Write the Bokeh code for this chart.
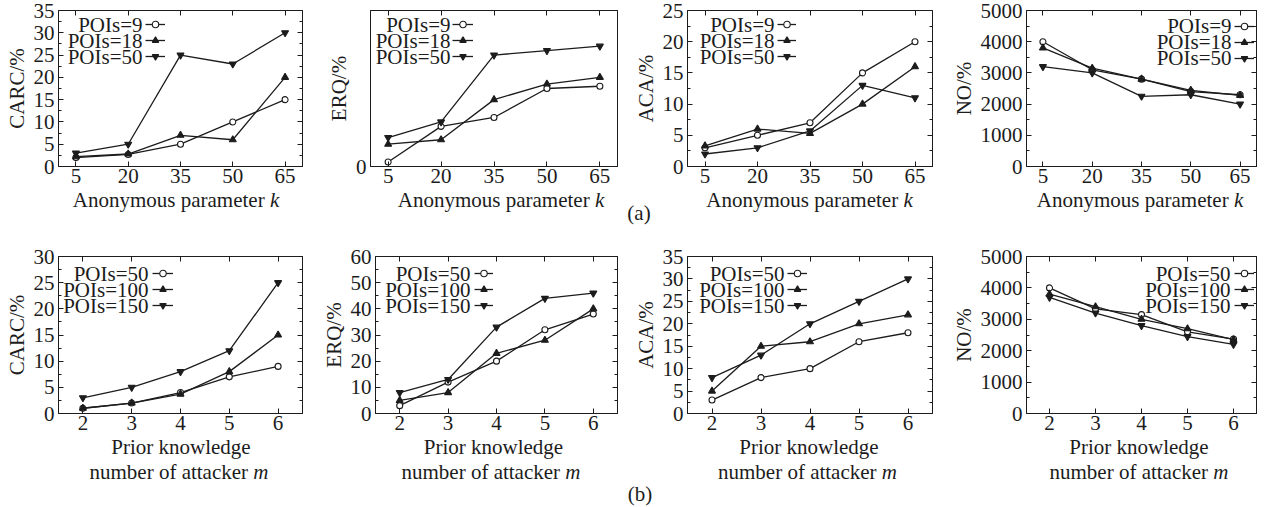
from bokeh.plotting import figure
from bokeh.layouts import column, row
from bokeh.models import FixedTicker, LinearAxis, Label, Legend, LegendItem, Div
from bokeh.embed import file_html
from bokeh.resources import INLINE

FONT = "Liberation Serif"
INK = "#1c1c1c"
FS = "21px"

# ---------------- data ----------------
k_values = [5, 20, 35, 50, 65]
m_values = [2, 3, 4, 5, 6]
k_series_names = ["POIs=9", "POIs=18", "POIs=50"]
m_series_names = ["POIs=50", "POIs=100", "POIs=150"]

# (a) varying anonymous parameter k
carc_k_poi9 = [2.0, 2.7, 5.0, 10.0, 15.0]
carc_k_poi18 = [2.2, 2.8, 7.0, 6.0, 20.0]
carc_k_poi50 = [3.0, 5.0, 25.0, 23.0, 30.0]

erq_k_poi9 = [1.0, 9.0, 11.0, 17.5, 18.0]
erq_k_poi18 = [5.0, 6.0, 15.0, 18.5, 20.0]
erq_k_poi50 = [6.5, 10.0, 25.0, 26.0, 27.0]

aca_k_poi9 = [3.0, 5.0, 7.0, 15.0, 20.0]
aca_k_poi18 = [3.3, 6.0, 5.3, 10.0, 16.0]
aca_k_poi50 = [2.0, 3.0, 5.7, 13.0, 11.0]

no_k_poi9 = [4000, 3100, 2800, 2400, 2300]
no_k_poi18 = [3800, 3150, 2800, 2440, 2280]
no_k_poi50 = [3200, 3000, 2250, 2300, 2000]

# (b) varying prior knowledge number m
carc_m_poi50 = [1.0, 2.0, 4.0, 7.0, 9.0]
carc_m_poi100 = [1.0, 2.0, 3.7, 8.0, 15.0]
carc_m_poi150 = [3.0, 5.0, 8.0, 12.0, 25.0]

erq_m_poi50 = [3, 12, 20, 32, 38]
erq_m_poi100 = [5, 8, 23, 28, 40]
erq_m_poi150 = [8, 13, 33, 44, 46]

aca_m_poi50 = [3, 8, 10, 16, 18]
aca_m_poi100 = [5, 15, 16, 20, 22]
aca_m_poi150 = [8, 13, 20, 25, 30]

no_m_poi50 = [4000, 3330, 3150, 2600, 2370]
no_m_poi100 = [3800, 3400, 3000, 2700, 2350]
no_m_poi150 = [3700, 3200, 2800, 2450, 2200]

# tick labels
k_ticks = [5, 20, 35, 50, 65]
m_ticks = [2, 3, 4, 5, 6]
carc_k_yticks = [0, 5, 10, 15, 20, 25, 30, 35]
erq_k_yticks = [0]
aca_k_yticks = [0, 5, 10, 15, 20, 25]
no_yticks = [0, 1000, 2000, 3000, 4000, 5000]
carc_m_yticks = [0, 5, 10, 15, 20, 25, 30]
erq_m_yticks = [0, 10, 20, 30, 40, 50, 60]
aca_m_yticks = [0, 5, 10, 15, 20, 25, 30, 35]

k_axis_title = "Anonymous parameter <i>k</i>"
m_axis_title_1 = "Prior knowledge"
m_axis_title_2 = "number of attacker <i>m</i>"

MARKERS = [("circle", "white", 6), ("triangle", INK, 7), ("inverted_triangle", INK, 7)]


def midpoints(ticks):
    return [(a + b) / 2 for a, b in zip(ticks[:-1], ticks[1:])]


def style_axis(ax, ticker, show_labels=True, standoff=4):
    ax.ticker = ticker
    ax.axis_line_color = INK
    ax.axis_line_width = 1
    ax.major_tick_line_color = INK
    ax.minor_tick_line_color = INK
    ax.major_tick_in = 5
    ax.major_tick_out = 0
    ax.minor_tick_in = 3
    ax.minor_tick_out = 0
    ax.major_label_text_font = FONT
    ax.major_label_text_color = INK
    if show_labels:
        ax.major_label_text_font_size = FS
        ax.major_label_standoff = standoff
    else:
        ax.major_label_text_font_size = "1px"
        ax.major_label_text_alpha = 0
        ax.major_label_text_color = None
        ax.major_label_standoff = 0


def make_panel(xs, x_range, xticks, series, names, y_range, yticks, yminor, ylabel,
               width, height, bl, br, bt, bb, legend_geom):
    fh = height - bt - bb
    p = figure(width=width, height=height, x_range=x_range, y_range=y_range,
               output_backend="svg", toolbar_location=None, title=None,
               min_border_left=bl, min_border_right=br,
               min_border_top=bt, min_border_bottom=bb)
    p.background_fill_color = "white"
    p.border_fill_color = "white"
    p.outline_line_color = INK
    p.outline_line_width = 1
    p.xgrid.visible = False
    p.ygrid.visible = False

    style_axis(p.xaxis[0], FixedTicker(ticks=xticks, minor_ticks=[]), True, 2)
    yax = p.yaxis[0]
    style_axis(yax, FixedTicker(ticks=yticks, minor_ticks=yminor), True, 4)
    yax.axis_label = ylabel
    yax.axis_label_text_font = FONT
    yax.axis_label_text_font_size = FS
    yax.axis_label_text_font_style = "normal"
    yax.axis_label_text_color = INK
    yax.axis_label_standoff = 2

    top_ax = LinearAxis()
    style_axis(top_ax, FixedTicker(ticks=xticks, minor_ticks=[]), False)
    p.add_layout(top_ax, "above")
    right_ax = LinearAxis()
    style_axis(right_ax, FixedTicker(ticks=yticks, minor_ticks=yminor), False)
    p.add_layout(right_ax, "right")

    items = []
    for ys, (mk, fill, sz) in zip(series, MARKERS):
        lr = p.line(xs, ys, line_color=INK, line_width=1.3)
        sr = p.scatter(xs, ys, marker=mk, size=sz, fill_color=fill,
                       line_color=INK, line_width=1.1)
        items.append(LegendItem(label=" ", renderers=[lr, sr]))

    text_right, line_start, line_len, row1 = legend_geom
    rh = 16
    leg = Legend(items=items, location=(line_start, fh - (row1 - rh / 2) - 3 * rh),
                 orientation="vertical", padding=0, margin=0, spacing=0,
                 glyph_width=line_len, glyph_height=rh, label_width=0,
                 label_height=rh, label_standoff=0, label_text_font_size="1px",
                 label_text_alpha=0, label_text_color=None,
                 border_line_color=None, background_fill_alpha=0)
    p.add_layout(leg)
    for i, name in enumerate(names):
        p.add_layout(Label(x=text_right, y=fh - (row1 + i * rh), x_units="screen",
                           y_units="screen", text=name, text_align="right",
                           text_baseline="middle", text_font=FONT, text_font_size=FS,
                           text_color=INK))
    return p


def label_div(width, height, spans):
    inner = "".join(
        f'<span style="position:absolute;left:{x}px;top:{t}px;transform:translateX(-50%);'
        f'white-space:nowrap;">{html}</span>' for (html, x, t) in spans)
    text = (f'<div style="position:relative;width:{width}px;height:{height}px;'
            f"font-family:'{FONT}',serif;font-size:{FS};line-height:16px;color:{INK};\">"
            f"{inner}</div>")
    return Div(text=text, width=width, height=height, margin=0)


W = [318, 310, 320, 318]
LEFT = [58, 52, 59, 74]
RIGHT = [16, 11, 16, 10]
TOP_H, TOP_BT, TOP_BB = 192, 10, 26
TOPDIV_H = 32
BOT_H, BOT_BT, BOT_BB = 215, 32, 26
BOTDIV_H = 67
K_RANGE = (0, 70)
M_RANGE = (1.5, 6.5)

top_specs = [
    ([carc_k_poi9, carc_k_poi18, carc_k_poi50], (0, 35), carc_k_yticks, midpoints(carc_k_yticks), "CARC/%", (84, 87, 20, 14.3)),
    ([erq_k_poi9, erq_k_poi18, erq_k_poi50], (0, 35), erq_k_yticks, [], "ERQ/%", (80, 82, 21, 14.3)),
    ([aca_k_poi9, aca_k_poi18, aca_k_poi50], (0, 25), aca_k_yticks, midpoints(aca_k_yticks), "ACA/%", (87, 90, 19, 14.3)),
    ([no_k_poi9, no_k_poi18, no_k_poi50], (0, 5000), no_yticks, midpoints(no_yticks), "NO/%", (205, 208, 20, 15.5)),
]
bot_specs = [
    ([carc_m_poi50, carc_m_poi100, carc_m_poi150], (0, 30), carc_m_yticks, midpoints(carc_m_yticks), "CARC/%", (90, 94, 21, 17.3)),
    ([erq_m_poi50, erq_m_poi100, erq_m_poi150], (0, 60), erq_m_yticks, midpoints(erq_m_yticks), "ERQ/%", (95, 99, 19, 17)),
    ([aca_m_poi50, aca_m_poi100, aca_m_poi150], (0, 35), aca_m_yticks, midpoints(aca_m_yticks), "ACA/%", (97, 100, 20, 17)),
    ([no_m_poi50, no_m_poi100, no_m_poi150], (0, 5000), no_yticks, midpoints(no_yticks), "NO/%", (204, 208, 20, 17.3)),
]

top_figs = []
for i, (series, yr, yt, ym, yl, lg) in enumerate(top_specs):
    top_figs.append(make_panel(k_values, K_RANGE, k_ticks, series, k_series_names, yr, yt, ym, yl,
                               W[i], TOP_H, LEFT[i], RIGHT[i], TOP_BT, TOP_BB, lg))
bot_figs = []
for i, (series, yr, yt, ym, yl, lg) in enumerate(bot_specs):
    bot_figs.append(make_panel(m_values, M_RANGE, m_ticks, series, m_series_names, yr, yt, ym, yl,
                               W[i], BOT_H, LEFT[i], RIGHT[i], BOT_BT, BOT_BB, lg))

top_label_x = [176, 183, 181.5, 192]
top_divs = []
for i in range(4):
    spans = [(k_axis_title, top_label_x[i], 0)]
    if i == 2:
        spans.append(("(a)", 11, 13))
    top_divs.append(label_div(W[i], TOPDIV_H, spans))

bot_l1_x = [181, 175.5, 181, 191]
bot_l2_x = [179, 173, 179.5, 191]
bot_divs = []
for i in range(4):
    spans = [(m_axis_title_1, bot_l1_x[i], 0), (m_axis_title_2, bot_l2_x[i], 25)]
    if i == 2:
        spans.append(("(b)", 12, 47))
    bot_divs.append(label_div(W[i], BOTDIV_H, spans))

layout = column(row(*top_figs), row(*top_divs), row(*bot_figs), row(*bot_divs))

with open("out.html", "w") as f:
    f.write(file_html(layout, INLINE))
